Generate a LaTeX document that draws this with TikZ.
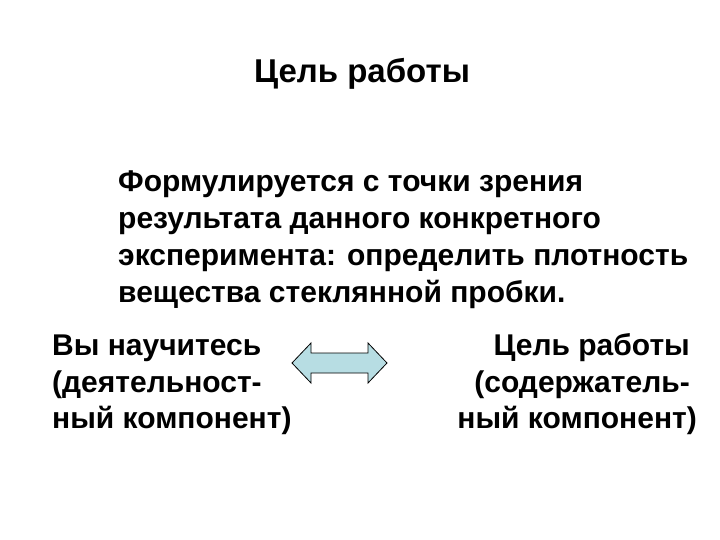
\documentclass[tikz,border=0pt]{standalone}
\usepackage{fontspec}
\setmainfont{Liberation Sans}
\begin{document}
\begin{tikzpicture}[x=1pt,y=-1pt,
  txt/.style={anchor=base west,inner sep=0pt,font=\bfseries\fontsize{30}{30}\selectfont},
  rtxt/.style={txt,anchor=base east}]
\useasboundingbox[fill=white] (0,0) rectangle (720,540);
\node[inner sep=0pt,anchor=base,font=\bfseries\fontsize{33}{33}\selectfont] (title) at (362,83) {Цель работы};
\node[txt] (l1) at (118,192) {Формулируется с точки зрения};
\node[txt] (l2) at (118,229) {результата данного конкретного};
\node[txt] (l3) at (118,265) {эксперимента: определить плотность};
\node[txt] (l4) at (118,302) {вещества стеклянной пробки.};
\node[txt] (a1) at (52,355) {Вы научитесь};
\node[txt] (a2) at (52,392) {(деятельност-};
\node[txt] (a3) at (52,428) {ный компонент)};
\node[rtxt] (b1) at (690,355) {Цель работы};
\node[rtxt] (b2) at (690,392) {(содержатель-};
\node[rtxt] (b3) at (697,428) {ный компонент)};
\draw[fill={rgb,255:red,183;green,221;blue,227},line width=0.8pt]
 (292,363) -- (311,343) -- (311,353) -- (368,353) -- (368,343) -- (387,363)
 -- (368,383) -- (368,373) -- (311,373) -- (311,383) -- cycle;
\end{tikzpicture}
\end{document}
